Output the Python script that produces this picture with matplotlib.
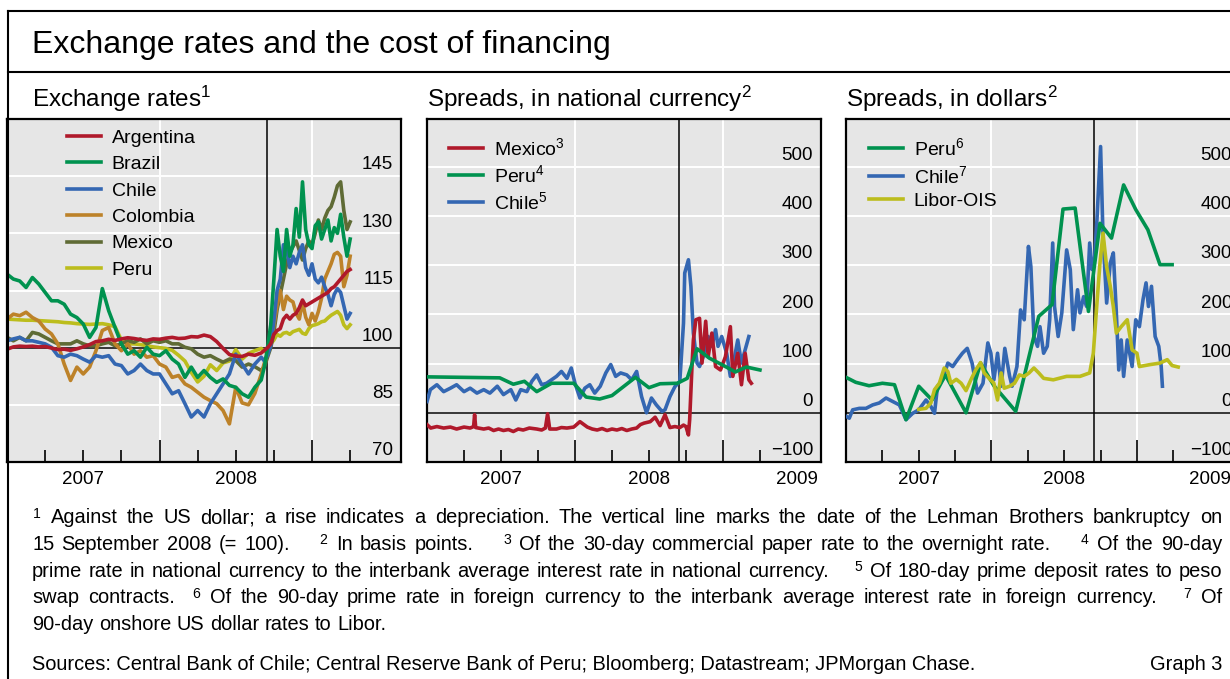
import numpy as np
import matplotlib.pyplot as plt
from matplotlib.lines import Line2D
from matplotlib.transforms import blended_transform_factory as blend

plt.rcParams['font.family'] = ['Liberation Sans', 'DejaVu Sans']
plt.rcParams['mathtext.fontset'] = 'custom'
plt.rcParams['mathtext.rm'] = 'Liberation Sans'
plt.rcParams['mathtext.it'] = 'Liberation Sans:italic'
plt.rcParams['mathtext.bf'] = 'Liberation Sans:bold'

W, H = 1230, 679
LEHMAN = 20.47  # 15 Sep 2008, months after 1 Jan 2007

RED = '#b0192b'
GREEN = '#00924f'
BLUE = '#3467b2'
BROWN = '#bd8229'
OLIVE = '#5f6b35'
YELLOW = '#bcbd1d'

# --- exchange rates, 15 Sep 2008 = 100 (x in months since Jan 2007) ---
fx_months = np.concatenate([np.arange(0, 20.01, 0.5), np.arange(20.25, 27.01, 0.25)])
argentina = [99.6, 100.2, 100.4, 100.3, 100.4, 100.2, 100.3, 99.9, 99.5, 99.6,
             99.3, 99.7, 100.2, 100.8, 101.6, 101.8, 102.2, 101.9, 102.3, 102.6,
             102.4, 102.1, 101.9, 102.3, 102.2, 102.5, 102.7, 102.4, 102.5, 102.9,
             102.8, 103.3, 102.9, 101.6, 99.8, 98.2, 97.8, 97.7, 98.3, 98.0, 98.6,
             99.3, 100, 101, 103.5, 104.5, 105, 107.5, 108.5, 107.5, 108.5, 109, 110.5,
             112.5, 111, 111.5, 112, 112.5, 113, 113.5, 114, 114.5, 115.5, 116, 117,
             118, 119, 120, 120.5]
brazil = [119.3, 118, 117.5, 115.8, 118.4, 116.7, 114.5, 112.3, 112.3, 111.4,
          108.8, 107.9, 106.2, 102.7, 105.3, 115.5, 109.7, 105.3, 101, 98.3,
          99.2, 97.5, 100.1, 98.3, 97.9, 99.2, 97, 95.7, 92.2, 94.9,
          92.2, 94, 92.2, 90.9, 91.8, 90.1, 89.6, 87.9, 87, 89.6, 91.5,
          95, 100, 106, 118, 131, 124, 120, 131, 124, 127, 136.5, 129,
          143.5, 131, 127, 126, 132, 133, 128.5, 131, 133.5, 128, 131.5, 130,
          135, 129, 124, 128.5]
chile = [101.8, 102.3, 102.7, 101.8, 101.8, 101.4, 101, 100.1, 97.9, 97.5,
         98.3, 97.9, 97, 96.2, 97.9, 97.5, 97.9, 95.7, 95.3, 93.1,
         94, 95.7, 94, 93.1, 93.1, 90.5, 87.9, 88.7, 85.3, 81.8,
         83.5, 81.8, 85.3, 87.9, 90.5, 93.1, 98.3, 95.7, 93.1, 95.7, 97.5,
         96.5, 98, 100.5, 107, 115, 118, 127, 126, 121, 124, 122, 125,
         127, 121, 119, 122, 118, 117, 118.5, 116, 114, 111, 114, 115.5,
         114.5, 111, 107.5, 109]
colombia = [107.5, 108.8, 108.4, 109.3, 107.9, 107, 104.9, 103.6, 101, 95.7,
            91.4, 94.9, 93.1, 94.9, 99.2, 104.5, 105.3, 101, 99.2, 101,
            98.3, 99.2, 97.5, 97.9, 95.7, 94.9, 92.2, 92.7, 90.5, 89.6,
            88.3, 87, 86.1, 85.3, 83.5, 80, 89.6, 85.5, 85, 88, 93,
            96, 98.5, 101, 106, 111, 115, 110, 113.5, 112.5, 112, 109, 107.5,
            112, 108, 106, 109, 107, 109.5, 113, 118, 120, 122, 124.5, 125,
            124, 116, 119, 124]
mexico = [102.7, 101.8, 102.7, 101.8, 104, 103.6, 102.7, 101.8, 101, 101,
          101, 101.8, 101, 100.5, 100.5, 101, 101.4, 100.5, 101, 101.8,
          101.4, 102.3, 101, 101.8, 101.4, 101.8, 101, 101, 100.1, 99.7,
          98.3, 97.5, 97.9, 97, 96.2, 97, 96.6, 94.9, 95.7, 95, 94,
          95, 97.5, 100, 104, 110, 114, 118, 122, 125, 126.5, 128, 125.5,
          123, 126, 128, 127, 130, 133.5, 131, 134, 136, 137, 139.5, 142.5,
          143.5, 136, 131, 133]
peru = [107.5, 107.4, 107.3, 107.2, 107.2, 107.1, 107, 106.9, 106.8, 106.6,
        106.5, 106.3, 106.2, 106.1, 106.2, 106.3, 106, 105.5, 102, 101,
        101, 100.8, 100.5, 100.2, 100, 99.8, 99.3, 98, 96.5, 93.5,
        91, 92.5, 95.5, 94, 96, 96.5, 99.5, 97, 98.5, 99.2, 99.8,
        99, 99.5, 101, 102, 103.5, 103, 103.8, 104, 103.5, 104.2, 104.5, 104.8,
        103.8, 103.5, 105, 105.8, 106, 106.3, 106.8, 107, 107.8, 108.5, 109, 109.5,
        108.5, 106, 105, 106]

# --- spreads in national currency, basis points ---
mex_nc_months = [0, 0.3, 0.8, 1.35, 1.9, 2.4, 3.0, 3.5, 3.78, 3.86,
                 3.95, 4.6, 5.0, 5.4, 5.8, 6.2, 6.6, 7.0, 7.4, 7.8,
                 8.3, 8.9, 9.3, 9.6, 9.78, 9.95, 10.5, 10.9, 11.35, 11.9,
                 12.4, 13.0, 13.4, 13.8, 14.2, 14.6, 15.0, 15.4, 15.8, 16.2,
                 16.6, 17.0, 17.3, 17.6, 18.1, 18.5, 18.9, 19.3, 19.7, 20.1,
                 20.5, 20.8, 21.0, 21.2, 21.3, 21.5, 21.6, 21.8, 22.1, 22.3,
                 22.6, 22.8, 23.1, 23.4, 23.8, 24.2, 24.6, 24.8, 25.2, 25.5,
                 25.8, 26.1, 26.3]
mex_nc = [-24, -31, -28, -31, -29, -33, -29, -31, -28, -4,
          -30, -33, -31, -36, -33, -36, -34, -38, -33, -35,
          -31, -33, -35, -31, -2, -33, -33, -30, -31, -29,
          -18, -29, -33, -35, -32, -36, -33, -35, -32, -36,
          -33, -31, -24, -21, -18, -9, -26, -4, -30, -28,
          -30, -25, -28, -45, -14, 101, 148, 189, 192, 101,
          186, 114, 162, 94, 87, 114, 175, 74, 121, 57,
          121, 67, 60]
peru_nc_months = [0, 5.9, 7.0, 7.9, 8.9, 10.1, 11.9, 12.9, 14.0, 15.0, 16.9,
                  18.0, 18.9, 20.3, 21.1, 21.9, 22.9, 23.9, 25.0, 25.9, 27.0]
peru_nc = [73, 71, 58, 64, 43, 60, 60, 32, 28, 35, 72,
           51, 59, 60, 70, 130, 111, 98, 83, 93, 87]
chile_nc_months = [0, 0.27, 0.8, 1.35, 1.9, 2.4, 3.0, 3.5, 4.05, 4.6,
                   5.1, 5.7, 6.2, 6.8, 7.2, 7.6, 8.1, 8.5, 8.9, 9.3,
                   9.7, 10.1, 10.5, 10.9, 11.35, 11.7, 12.0, 12.4, 12.8, 13.2,
                   13.6, 14.05, 14.5, 14.9, 15.3, 15.7, 16.2, 16.6, 17.0, 17.4,
                   17.8, 18.2, 18.6, 19.05, 19.3, 19.7, 20.1, 20.5, 20.8, 20.9,
                   21.2, 21.4, 21.6, 21.9, 22.1, 22.4, 22.8, 23.1, 23.4, 23.6,
                   23.9, 24.3, 24.6, 24.8, 25.2, 25.5, 25.8, 26.1]
chile_nc = [23, 47, 57, 43, 50, 57, 43, 50, 40, 47,
            40, 54, 37, 47, 26, 47, 43, 64, 77, 57,
            60, 67, 74, 84, 70, 91, 60, 30, 50, 57,
            40, 54, 81, 98, 74, 81, 77, 67, 84, 33,
            0, 30, 16, 3, 6, 33, 53, 64, 182, 284,
            311, 257, 162, 101, 94, 114, 155, 135, 169, 135,
            155, 121, 74, 94, 148, 101, 128, 155]

# --- spreads in dollars, basis points ---
peru_usd_months = [0, 0.8, 1.9, 3.0, 4.0, 4.95, 6.0, 7.1, 8.2, 9.9, 11.1, 12.2, 14.0,
                   15.9, 17.0, 17.9, 18.9, 20.0, 20.95, 21.9, 22.9, 23.9, 24.9, 25.9, 26.9]
peru_usd = [72, 62, 55, 60, 57, -14, 54, 26, 77, 0, 101, 55, 3,
            196, 220, 414, 416, 206, 385, 355, 463, 413, 372, 301, 301]
chile_usd_months = [0, 0.27, 0.55, 1.1, 1.65, 2.2, 2.75, 3.3, 3.85, 4.4,
                    4.95, 5.5, 6.0, 6.6, 7.0, 7.3, 7.55, 7.97, 8.4, 8.8,
                    9.2, 9.6, 10.0, 10.4, 10.85, 11.3, 11.7, 11.95, 12.2, 12.5,
                    12.8, 13.1, 13.5, 13.7, 14.1, 14.4, 14.7, 15.05, 15.25, 15.5,
                    15.8, 16.0, 16.3, 16.6, 16.8, 17.05, 17.2, 17.5, 17.8, 18.2,
                    18.5, 18.75, 19.1, 19.3, 19.6, 19.85, 20.1, 20.3, 20.5, 20.7,
                    21.0, 21.2, 21.5, 21.8, 22.05, 22.3, 22.5, 22.7, 22.9, 23.2,
                    23.6, 23.9, 24.2, 24.5, 24.75, 24.95, 25.2, 25.5, 25.8, 26.0,
                    26.1]
chile_usd = [-7, -11, 6, 9, 9, 16, 20, 30, 23, 16,
             -14, -1, 6, 26, 13, -1, 54, 67, 101, 94,
             108, 121, 131, 101, 40, 60, 142, 121, 67, 121,
             54, 131, 74, 54, 94, 209, 189, 338, 297, 155,
             135, 175, 121, 135, 189, 345, 216, 155, 203, 331,
             291, 169, 250, 203, 236, 216, 345, 291, 311, 392,
             541, 358, 223, 304, 325, 203, 87, 148, 74, 148,
             94, 189, 175, 230, 264, 216, 257, 155, 135, 94,
             54]
libor_ois_months = [6.0, 6.6, 7.0, 7.3, 7.7, 8.1, 8.4, 8.65, 9.1, 9.5,
                    9.9, 10.3, 10.7, 11.1, 11.4, 11.8, 12.2, 12.5, 12.8, 13.05,
                    13.5, 13.9, 14.3, 14.7, 15.1, 15.5, 15.9, 16.3, 17.1, 18.2,
                    19.3, 20.1, 20.4, 20.7, 20.95, 21.2, 21.5, 21.8, 22.05, 22.3,
                    22.7, 23.2, 23.6, 24.0, 24.2, 25.1, 25.9, 26.5, 26.9, 27.4]
libor_ois = [7, 9, 20, 47, 60, 91, 84, 60, 68, 60,
             45, 67, 87, 102, 81, 70, 60, 26, 81, 50,
             54, 60, 77, 74, 81, 91, 81, 70, 67, 74,
             74, 81, 121, 223, 304, 365, 297, 257, 216, 162,
             175, 189, 128, 121, 94, 98, 101, 108, 96, 93]

fx_ticks = [70, 85, 100, 115, 130, 145]
bp_ticks = [-100, 0, 100, 200, 300, 400, 500]


def box(left, top, width, height):
    return [left / W, 1 - (top + height) / H, width / W, height / H]


def style_panel(ax, xmax, ylim, yticks, base, years):
    ax.set_facecolor('#e6e6e6')
    ax.set_xlim(0, xmax)
    ax.set_ylim(*ylim)
    ax.set_yticks([])
    ax.set_xticks([12, 24])
    ax.set_xticks([3, 6, 9, 15, 18, 21, 27], minor=True)
    ax.tick_params(axis='x', which='both', direction='in', labelbottom=False,
                   width=1.2, color='black')
    ax.tick_params(axis='x', which='major', length=16)
    ax.tick_params(axis='x', which='minor', length=9)
    for sp in ax.spines.values():
        sp.set_linewidth(1.6)
    for y in yticks:
        ax.axhline(y, color='white', lw=1.4, zorder=0.5)
    for x in (12, 24):
        ax.axvline(x, color='white', lw=1.4, zorder=0.5)
    ax.axhline(base, color='black', lw=1.1, zorder=1)
    ax.axvline(LEHMAN, color='black', lw=1.1, zorder=1)
    ytr = blend(ax.transAxes, ax.transData)
    for y in yticks:
        lab = str(y).replace('-', '\u2212')
        ax.annotate(lab, xy=(0.98, y), xycoords=ytr, xytext=(0, 2),
                    textcoords='offset points', ha='right', va='bottom',
                    fontsize=13.5)
    xtr = blend(ax.transData, ax.transAxes)
    for x, lab in years:
        ax.text(x, -0.05, lab, transform=xtr, ha='center', va='center',
                fontsize=13.5, clip_on=False)


def add_legend(ax, handles, labels, x, y, spacing):
    ax.legend(handles, labels, loc='upper left', bbox_to_anchor=(x, y),
              frameon=False, fontsize=14, handlelength=1.75, handletextpad=0.55,
              labelspacing=spacing, borderpad=0, borderaxespad=0)


fig = plt.figure(figsize=(W / 100, H / 100), dpi=100)

# frame and headings
for xs, ys in [([8, W], [11, 11]), ([8, W], [72, 72]), ([8, 8], [11, H])]:
    fig.add_artist(Line2D([x / W for x in xs], [1 - y / H for y in ys],
                          transform=fig.transFigure, color='black', lw=1.5))
fig.text(32 / W, 1 - 53 / H, 'Exchange rates and the cost of financing',
         fontsize=23, va='baseline')
fig.text(32 / W, 1 - 107 / H, r'Exchange rates$^1$', fontsize=17.5, va='baseline')
fig.text(427 / W, 1 - 107 / H, r'Spreads, in national currency$^2$', fontsize=17.5,
         va='baseline')
fig.text(846 / W, 1 - 107 / H, r'Spreads, in dollars$^2$', fontsize=17.5,
         va='baseline')

lw = 2.6

# exchange rates
ax1 = fig.add_axes(box(7, 119, 394, 343))
style_panel(ax1, 31.0, (70, 160), fx_ticks, 100, [(6, '2007'), (18, '2008')])
fx_series = [('Argentina', argentina, RED), ('Brazil', brazil, GREEN),
             ('Chile', chile, BLUE), ('Colombia', colombia, BROWN),
             ('Mexico', mexico, OLIVE), ('Peru', peru, YELLOW)]
handles = {}
for name, vals, col in reversed(fx_series):
    handles[name], = ax1.plot(fx_months, vals, color=col, lw=lw, zorder=3)
add_legend(ax1, [handles[n] for n, _, _ in fx_series], [n for n, _, _ in fx_series],
           0.152, 0.970, 0.45)

years3 = [(6, '2007'), (18, '2008'), (30, '2009')]

# spreads in national currency
ax2 = fig.add_axes(box(427, 119, 394, 343))
style_panel(ax2, 31.95, (-100, 597), bp_ticks, 0, years3)
h_chl, = ax2.plot(chile_nc_months, chile_nc, color=BLUE, lw=lw, zorder=3)
h_mex, = ax2.plot(mex_nc_months, mex_nc, color=RED, lw=lw, zorder=3)
h_per, = ax2.plot(peru_nc_months, peru_nc, color=GREEN, lw=lw, zorder=3)
add_legend(ax2, [h_mex, h_per, h_chl], [r'Mexico$^3$', r'Peru$^4$', r'Chile$^5$'],
           0.056, 0.947, 0.25)

# spreads in dollars
ax3 = fig.add_axes(box(846, 119, 394, 343))
style_panel(ax3, 32.5, (-100, 597), bp_ticks, 0, years3)
h_chl3, = ax3.plot(chile_usd_months, chile_usd, color=BLUE, lw=lw, zorder=3)
h_per3, = ax3.plot(peru_usd_months, peru_usd, color=GREEN, lw=lw, zorder=3)
h_lib, = ax3.plot(libor_ois_months, libor_ois, color=YELLOW, lw=lw, zorder=3)
add_legend(ax3, [h_per3, h_chl3, h_lib], [r'Peru$^6$', r'Chile$^7$', 'Libor-OIS'],
           0.058, 0.947, 0.3)

# footnotes, justified between x0 and x1
notes = [
    ("^1 Against the US dollar; a rise indicates a depreciation. The vertical line marks "
     "the date of the Lehman Brothers bankruptcy on", True),
    ("15 September 2008 (= 100).    ^2 In basis points.    ^3 Of the 30-day commercial "
     "paper rate to the overnight rate.    ^4 Of the 90-day", True),
    ("prime rate in national currency to the interbank average interest rate in national "
     "currency.    ^5 Of 180-day prime deposit rates to peso", True),
    ("swap contracts.  ^6 Of the 90-day prime rate in foreign currency to the interbank "
     "average interest rate in foreign currency.   ^7 Of", True),
    ("90-day onshore US dollar rates to Libor.", False),
]
note_size = 14.4
x0, x1 = 32, 1222
renderer = fig.canvas.get_renderer()
space = 0.278 * note_size * 100 / 72
for i, (line, justify) in enumerate(notes):
    y = 1 - (523 + i * 26.8) / H
    words, gap = [], 0
    for w in line.split(' '):
        if w == '':
            gap += 1
            continue
        if w.startswith('^'):
            w = r'$^{%s}$' % w[1:]
        words.append((w, gap + 1 if words else 0))
        gap = 0
    texts = [fig.text(0, y, w, fontsize=note_size, va='baseline') for w, _ in words]
    widths = [t.get_window_extent(renderer).width for t in texts]
    weights = [g for _, g in words]
    unit = (x1 - x0 - sum(widths)) / sum(weights) if justify else space
    x = x0
    for t, wd, g in zip(texts, widths, weights):
        x += g * unit
        t.set_x(x / W)
        x += wd

fig.text(32 / W, 1 - 670 / H, 'Sources: Central Bank of Chile; Central Reserve Bank of Peru; '
         'Bloomberg; Datastream; JPMorgan Chase.', fontsize=note_size, va='baseline')
fig.text(1222 / W, 1 - 670 / H, 'Graph 3', fontsize=note_size, va='baseline', ha='right')

fig.savefig('out.png', dpi=100)
